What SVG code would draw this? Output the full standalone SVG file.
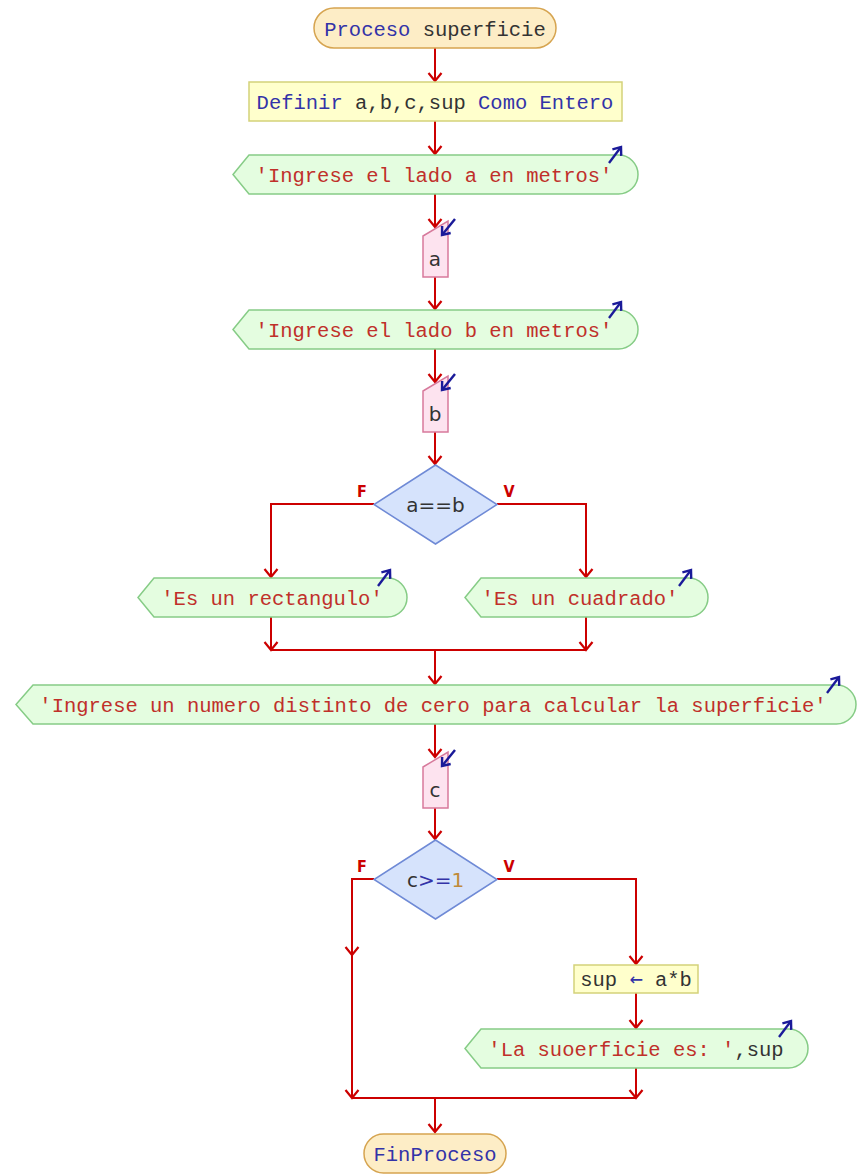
<svg xmlns="http://www.w3.org/2000/svg" width="859" height="1174" viewBox="0 0 859 1174">
<style>
.t{font-family:"Liberation Mono","DejaVu Sans Mono",monospace;font-size:20.5px;fill:#333}
.s{font-family:"DejaVu Sans","Liberation Sans",sans-serif;font-size:20px;fill:#333}
.kw{fill:#3333a8}
.str{fill:#c0302a}
.num{fill:#c08a3a}
.op{fill:#3333a8}
.arr{font-family:"DejaVu Sans Mono",monospace;font-size:22px}
.term{fill:#fdedc6;stroke:#d6a450;stroke-width:1.5}
.proc{fill:#ffffcc;stroke:#d4d27a;stroke-width:1.5}
.out{fill:#e4fde0;stroke:#86cc86;stroke-width:1.5}
.in{fill:#fde3ef;stroke:#d77a9c;stroke-width:1.5}
.dec{fill:#d6e3fc;stroke:#6f8ad6;stroke-width:1.5}
.c{fill:none;stroke:#cc0000;stroke-width:2}
.ico{fill:none;stroke:#1a1a99;stroke-width:2.4}
.lbl{font-family:"DejaVu Sans Condensed","Liberation Sans",sans-serif;font-size:16px;font-weight:bold;fill:#cc0000}
</style>
<defs>
<marker id="ar" viewBox="-12 -12 24 24" markerWidth="24" markerHeight="24" markerUnits="userSpaceOnUse" orient="auto" refX="0" refY="0">
<path d="M-8,-6.5 L0,0 L-8,6.5" fill="none" stroke="#cc0000" stroke-width="2.2"/>
</marker>
<marker id="bi" viewBox="-12 -12 24 24" markerWidth="24" markerHeight="24" markerUnits="userSpaceOnUse" orient="auto" refX="0" refY="0">
<path d="M-7,-5.5 L0,0 L-7,5.5" fill="none" stroke="#1a1a99" stroke-width="2.4"/>
</marker>
</defs>
<rect width="859" height="1174" fill="#ffffff"/>

<g id="connectors">
<path class="c" d="M435,48 V81" marker-end="url(#ar)"/>
<path class="c" d="M435,121 V154" marker-end="url(#ar)"/>
<path class="c" d="M435,194 V227" marker-end="url(#ar)"/>
<path class="c" d="M435,277 V309" marker-end="url(#ar)"/>
<path class="c" d="M435,349 V382" marker-end="url(#ar)"/>
<path class="c" d="M435,432 V464" marker-end="url(#ar)"/>
<path class="c" d="M374,504 H271 V577" marker-end="url(#ar)"/>
<path class="c" d="M497,504 H586 V577" marker-end="url(#ar)"/>
<path class="c" d="M271,617 V650" marker-end="url(#ar)"/>
<path class="c" d="M586,617 V650" marker-end="url(#ar)"/>
<path class="c" d="M271,650 H586"/>
<path class="c" d="M435,650 V684" marker-end="url(#ar)"/>
<path class="c" d="M435,724 V757" marker-end="url(#ar)"/>
<path class="c" d="M435,808 V839" marker-end="url(#ar)"/>
<path class="c" d="M374,879 H352 V955" marker-end="url(#ar)"/>
<path class="c" d="M352,955 V1098" marker-end="url(#ar)"/>
<path class="c" d="M497,879 H636 V964" marker-end="url(#ar)"/>
<path class="c" d="M636,993 V1028" marker-end="url(#ar)"/>
<path class="c" d="M636,1068 V1098" marker-end="url(#ar)"/>
<path class="c" d="M352,1098 H636"/>
<path class="c" d="M435,1098 V1132" marker-end="url(#ar)"/>
</g>

<g id="start">
<rect class="term" x="314" y="8" width="242" height="40" rx="20"/>
<text class="t" x="435" y="36" text-anchor="middle"><tspan class="kw">Proceso</tspan> superficie</text>
</g>

<g id="define">
<rect class="proc" x="249" y="82" width="373" height="39"/>
<text class="t" x="435" y="109" text-anchor="middle"><tspan class="kw">Definir</tspan> a,b,c,sup <tspan class="kw">Como Entero</tspan></text>
</g>

<g id="out1">
<path class="out" d="M233,174.5 L249,155 H618.5 A19.5,19.5 0 0 1 618.5,194 H249 Z"/>
<text class="t str" x="434" y="182" text-anchor="middle">'Ingrese el lado a en metros'</text>
<path class="ico" d="M609,163 L621,147" marker-end="url(#bi)"/>
</g>

<g id="in_a">
<path class="in" d="M423,236 L448,221 V277 H423 Z"/>
<text class="s" x="435" y="266" text-anchor="middle">a</text>
<path class="ico" d="M455,219 L442,235" marker-end="url(#bi)"/>
</g>

<g id="out2">
<path class="out" d="M233,329.5 L249,310 H618.5 A19.5,19.5 0 0 1 618.5,349 H249 Z"/>
<text class="t str" x="434" y="337" text-anchor="middle">'Ingrese el lado b en metros'</text>
<path class="ico" d="M609,318 L621,302" marker-end="url(#bi)"/>
</g>

<g id="in_b">
<path class="in" d="M423,391 L448,376 V432 H423 Z"/>
<text class="s" x="435" y="421" text-anchor="middle">b</text>
<path class="ico" d="M455,374 L442,390" marker-end="url(#bi)"/>
</g>

<g id="dec1">
<path class="dec" d="M435.5,465 L497,504.5 L435.5,544 L374,504.5 Z"/>
<text class="s" x="435.5" y="512" text-anchor="middle">a==b</text>
<text class="lbl" x="362" y="497" text-anchor="middle">F</text>
<text class="lbl" x="509" y="497" text-anchor="middle">V</text>
</g>

<g id="out_rect">
<path class="out" d="M138,597.5 L154,578 H387.5 A19.5,19.5 0 0 1 387.5,617 H154 Z"/>
<text class="t str" x="272" y="605" text-anchor="middle">'Es un rectangulo'</text>
<path class="ico" d="M378,586 L390,570" marker-end="url(#bi)"/>
</g>

<g id="out_cuad">
<path class="out" d="M465,597.5 L481,578 H688.5 A19.5,19.5 0 0 1 688.5,617 H481 Z"/>
<text class="t str" x="580" y="605" text-anchor="middle">'Es un cuadrado'</text>
<path class="ico" d="M679,586 L691,570" marker-end="url(#bi)"/>
</g>

<g id="out3">
<path class="out" d="M16,704.5 L33,685 H836.5 A19.5,19.5 0 0 1 836.5,724 H33 Z"/>
<text class="t str" x="433" y="712" text-anchor="middle">'Ingrese un numero distinto de cero para calcular la superficie'</text>
<path class="ico" d="M827,693 L839,677" marker-end="url(#bi)"/>
</g>

<g id="in_c">
<path class="in" d="M423,767 L448,752 V808 H423 Z"/>
<text class="s" x="435" y="797" text-anchor="middle">c</text>
<path class="ico" d="M455,750 L442,766" marker-end="url(#bi)"/>
</g>

<g id="dec2">
<path class="dec" d="M435.5,840 L497,879.5 L435.5,919 L374,879.5 Z"/>
<text class="s" x="435.5" y="887" text-anchor="middle">c<tspan class="op">&gt;=</tspan><tspan class="num">1</tspan></text>
<text class="lbl" x="362" y="872" text-anchor="middle">F</text>
<text class="lbl" x="509" y="872" text-anchor="middle">V</text>
</g>

<g id="assign">
<rect class="proc" x="574" y="965" width="124" height="28"/>
<text class="t" x="636" y="986" text-anchor="middle">sup <tspan class="kw arr">←</tspan> a*b</text>
</g>

<g id="out4">
<path class="out" d="M465,1048.5 L481,1029 H788.5 A19.5,19.5 0 0 1 788.5,1068 H481 Z"/>
<text class="t" x="636" y="1056" text-anchor="middle"><tspan class="str">'La suoerficie es: '</tspan>,sup</text>
<path class="ico" d="M779,1037 L791,1021" marker-end="url(#bi)"/>
</g>

<g id="end">
<rect class="term" x="364" y="1134" width="142" height="39" rx="19.5"/>
<text class="t" x="435" y="1161" text-anchor="middle"><tspan class="kw">FinProceso</tspan></text>
</g>
</svg>
